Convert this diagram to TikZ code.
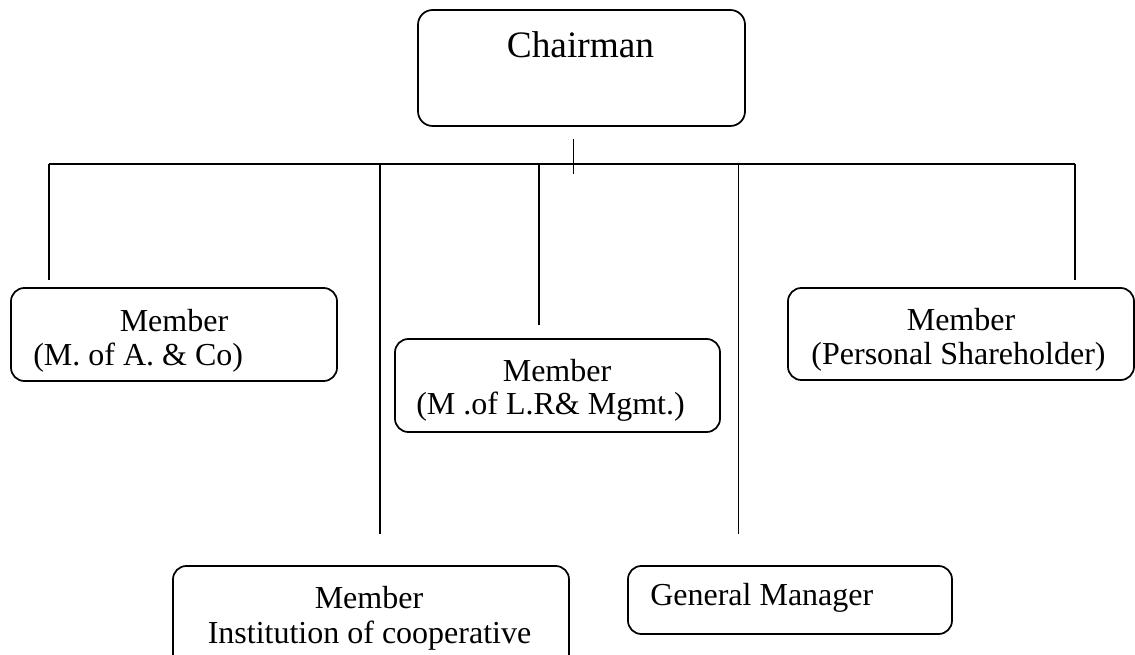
\documentclass[tikz,border=0pt]{standalone}
\usepackage{fontspec}
\setmainfont{Liberation Serif}

\tikzset{
  orgbox/.style={draw, rounded corners=10pt, line width=1.3pt, inner sep=0pt},
  link/.style={line width=0.9pt},
  lbl/.style={inner sep=0pt, anchor=base, font=\fontsize{24}{28}\selectfont},
}

\begin{document}
\begin{tikzpicture}[x=0.75pt,y=0.75pt,yscale=-1,xscale=1]
\path[use as bounding box,clip] (0,0) rectangle (1135,655);

%Boxes
\node[orgbox, rounded corners=11pt, minimum width=245.25pt, minimum height=87pt] (chair) at (581.5,68) {};
\node[orgbox, minimum width=244.5pt, minimum height=69.75pt] (mAC) at (174,334.5) {};
\node[orgbox, minimum width=243.75pt, minimum height=69.75pt] (mLR) at (557.5,385.5) {};
\node[orgbox, minimum width=259.5pt, minimum height=69pt] (mPS) at (961,334) {};
\node[orgbox, minimum width=297pt, minimum height=78pt] (mIC) at (371,618) {};
\node[orgbox, minimum width=243pt, minimum height=51pt] (gm) at (790,600) {};

%Tick under the chairman and the bus
\coordinate (tickTop) at (573.5,139);
\coordinate (tickBot) at (573.5,174);
\coordinate (busL) at (49,164);
\coordinate (busR) at (1075,164);
\draw[link] (tickTop) -- (tickBot);
\draw[link] (busL) -- (busR);

%Drops from the bus
\foreach \name/\x/\y in {dAC/49/280, dIC/380/534, dLR/539/325, dGM/738.5/534, dPS/1075/280}{
  \coordinate (\name) at (\x,\y);
  \draw[link] (\name |- busL) -- (\name);
}

% Text Nodes
\node[lbl, font=\fontsize{28}{32}\selectfont] (chairTxt) at (580.5,58) {Chairman};
\node[lbl] (acTop) at (174,332) {Member};
\node[lbl, anchor=base west] (acBot) at (33,366) {(M. of A. \& Co)};
\node[lbl] (lrTop) at (557,382) {Member};
\node[lbl] (lrBot) at (550.5,415) {(M .of L.R\& Mgmt.)};
\node[lbl] (psTop) at (961,331) {Member};
\node[lbl] (psBot) at (958.5,365) {(Personal Shareholder)};
\node[lbl] (icTop) at (369,608) {Member};
\node[lbl] (icBot) at (369.5,643) {Institution of cooperative};
\node[lbl, anchor=base west] (gmTxt) at (650,605) {General Manager};
\end{tikzpicture}
\end{document}
